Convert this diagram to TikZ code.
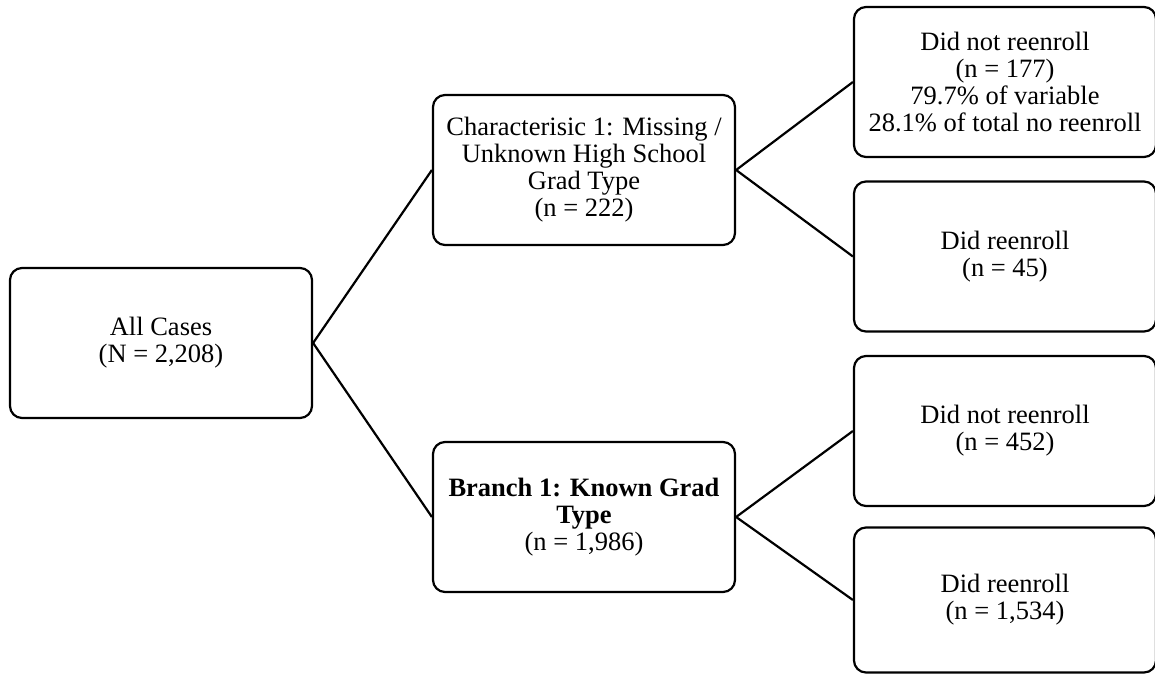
\documentclass[tikz,border=0pt]{standalone}
\usepackage{fontspec}
\setmainfont{Liberation Serif}
\usepackage{tikz}

\begin{document}
\begin{tikzpicture}[x=1pt, y=-1pt, line width=2.2pt,
    box/.style={draw, rounded corners=12pt, align=center,
                minimum width=302pt, minimum height=150pt, inner sep=0pt,
                font=\fontsize{26.5}{27}\selectfont}]
  \useasboundingbox (0,0) rectangle (1155,676);

  \node[box] (All)   at (161,343)    {All Cases\\(N = 2,208)};
  \node[box] (C1)    at (584,170)    {Characterisic 1: Missing /\\Unknown High School\\Grad Type\\(n = 222)};
  \node[box] (B1)    at (584,517)    {\textbf{Branch 1: Known Grad}\\\textbf{Type}\\(n = 1,986)};
  \node[box] (C1no)  at (1005,82)    {Did not reenroll\\(n = 177)\\79.7\% of variable\\28.1\% of total no reenroll};
  \node[box] (C1yes) at (1005,256.5) {Did reenroll\\(n = 45)};
  \node[box] (B1no)  at (1005,431)   {Did not reenroll\\(n = 452)};
  \node[box, minimum height=145pt] (B1yes) at (1005,600) {Did reenroll\\(n = 1,534)};

  \path (All.east) edge (C1.west)
                   edge (B1.west)
        (C1.east)  edge (C1no.west)
                   edge (C1yes.west)
        (B1.east)  edge (B1no.west)
                   edge (B1yes.west)
        ;
\end{tikzpicture}
\end{document}
